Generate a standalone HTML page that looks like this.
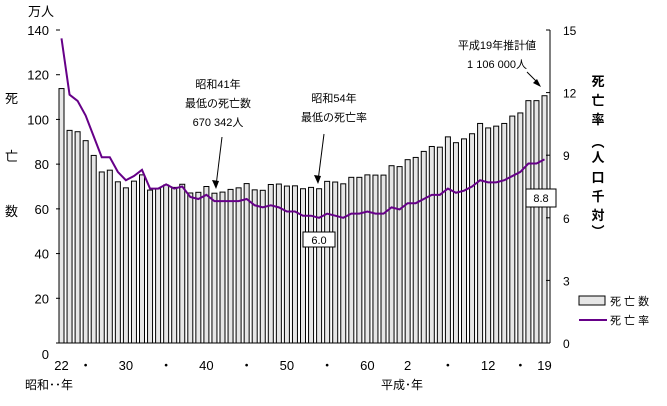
<!DOCTYPE html>
<html><head><meta charset="utf-8"><style>
body{margin:0;background:#fff}
svg{display:block;font-family:"Liberation Sans","Noto Sans CJK JP",sans-serif}
</style></head><body>
<svg id="c" width="667" height="406" viewBox="0 0 667 406">
<g id="bars"></g>
<polyline id="rateLine" fill="none" stroke="#660088" stroke-width="2"/>
<g id="axes"></g>
<g font-size="12" fill="#000">
<text x="218" y="88" text-anchor="middle" font-size="11">昭和41年</text>
<text x="218" y="107" text-anchor="middle" font-size="11">最低の死亡数</text>
<text x="218" y="126" text-anchor="middle" font-size="11">670 342人</text>
<line x1="222" y1="137" x2="216" y2="186" stroke="#000"/>
<polygon points="216,189 212,180 219,181" fill="#000"/>
<text x="334" y="102" text-anchor="middle" font-size="11">昭和54年</text>
<text x="334" y="121" text-anchor="middle" font-size="11">最低の死亡率</text>
<line x1="324" y1="134" x2="318" y2="181" stroke="#000"/>
<polygon points="318,184 314,175 321,176" fill="#000"/>
<text x="497" y="49" text-anchor="middle" font-size="11">平成19年推計値</text>
<text x="497" y="68" text-anchor="middle" font-size="11">1 106 000人</text>
<line x1="527" y1="72" x2="539" y2="84" stroke="#000"/>
<polygon points="541,87 533,83 537,79" fill="#000"/>
<rect x="303" y="232" width="32" height="15" fill="#fff" stroke="#000"/>
<text x="319" y="244" text-anchor="middle" font-size="11">6.0</text>
<rect x="526" y="189" width="30" height="18" fill="#fff" stroke="#000"/>
<text x="541" y="202" text-anchor="middle" font-size="11">8.8</text>
</g>
<g font-size="13">
<text x="28" y="16">万人</text>
<text x="5" y="103">死</text>
<text x="5" y="161">亡</text>
<text x="5" y="216">数</text>
</g>
<g font-size="13" font-weight="bold" text-anchor="middle">
<text x="598" y="86">死</text><text x="598" y="105">亡</text><text x="598" y="124">率</text>
<text x="598" y="147">︵</text><text x="598" y="162">人</text><text x="598" y="182">口</text><text x="598" y="201">千</text><text x="598" y="220">対</text><text x="598" y="236">︶</text>
</g>
<g font-size="12">
<text x="25" y="389">昭和･･年</text>
<text x="381" y="389">平成･年</text>
</g>
<g>
<rect x="579" y="296" width="26" height="9" fill="#e6e6e6" stroke="#000"/>
<text x="610" y="305" font-size="11">死 亡 数</text>
<line x1="579" y1="320" x2="607" y2="320" stroke="#660088" stroke-width="2"/>
<text x="610" y="324" font-size="11">死 亡 率</text>
</g>
</svg>
<script>
const deaths=[113.8,95.1,94.5,90.5,83.9,76.5,77.3,72.1,69.4,72.4,75.2,68.4,69.0,70.7,69.6,71.0,67.1,67.4,70.0,67.0,67.5,68.7,69.4,71.3,68.5,68.3,70.9,71.1,70.2,70.3,69.0,69.6,69.0,72.3,72.0,71.2,74.1,74.1,75.2,75.1,75.1,79.3,78.9,82.0,83.0,85.7,87.9,87.6,92.2,89.6,91.3,93.6,98.2,96.2,97.0,98.2,101.5,102.9,108.4,108.4,110.6];
const rates=[14.6,11.9,11.6,10.9,9.9,8.9,8.9,8.2,7.8,8.0,8.3,7.4,7.4,7.6,7.4,7.5,7.0,6.9,7.1,6.8,6.8,6.8,6.8,6.9,6.6,6.5,6.6,6.5,6.3,6.3,6.1,6.1,6.0,6.2,6.1,6.0,6.2,6.2,6.3,6.2,6.2,6.5,6.4,6.7,6.7,6.9,7.1,7.1,7.4,7.2,7.3,7.5,7.8,7.7,7.7,7.8,8.0,8.2,8.6,8.6,8.8];
const leftTicks=[0,20,40,60,80,100,120,140];
const rightTicks=[0,3,6,9,12,15];
const xLabels=[["22",0],["・",3],["30",8],["・",13],["40",18],["・",23],["50",28],["・",33],["60",38],["2",43],["・",48],["12",53],["・",57],["19",60]];
const NS="http://www.w3.org/2000/svg";
const y0=343,yTop=30;
const yL=v=>y0-(v/140)*(y0-yTop);
const yR=v=>y0-(v/15)*(y0-yTop);
const xC=i=>61.5+i*8.05;
function mk(tag,attrs,parent){const e=document.createElementNS(NS,tag);for(const k in attrs)e.setAttribute(k,attrs[k]);parent.appendChild(e);return e;}
const bars=document.getElementById('bars');
deaths.forEach((v,i)=>{
 const r=mk('rect',{x:xC(i)-2.5,y:yL(v),width:5,height:y0-yL(v),fill:'#e6e6e6',stroke:'#000','stroke-width':1},bars);
 
 
});
document.getElementById('rateLine').setAttribute('points',rates.map((v,i)=>xC(i)+','+yR(v)).join(' '));
const ax=document.getElementById('axes');
mk('line',{x1:56,y1:y0,x2:550,y2:y0,stroke:'#000'},ax);
mk('line',{x1:550,y1:yTop,x2:550,y2:y0,stroke:'#000'},ax);
leftTicks.forEach(v=>{
 mk('line',{x1:56,y1:yL(v),x2:60,y2:yL(v),stroke:'#000'},ax);
 const t=mk('text',{x:49,y:(v===0?yL(v)+16:yL(v)+5),'text-anchor':'end','font-size':13},ax);
 t.textContent=v;
 
 
});
rightTicks.forEach(v=>{
 mk('line',{x1:546,y1:yR(v),x2:550,y2:yR(v),stroke:'#000'},ax);
 const t=mk('text',{x:563,y:yR(v)+5,'font-size':12},ax);
 t.textContent=v;
 
 
});
xLabels.forEach(([s,i])=>{
 const t=mk('text',{x:xC(i),y:370,'text-anchor':'middle','font-size':13},ax);
 t.textContent=s;
 
 
});
</script>
</body></html>
